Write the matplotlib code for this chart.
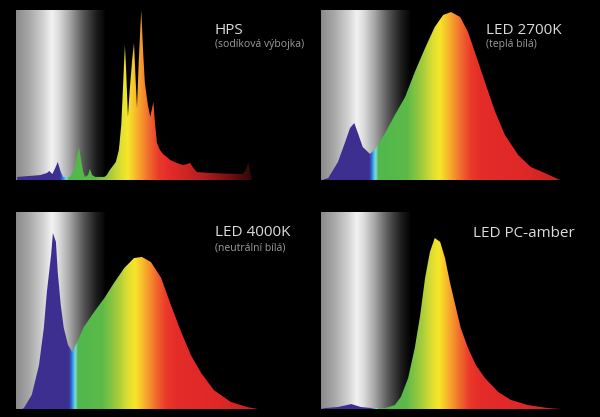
import matplotlib
matplotlib.use("Agg")
import matplotlib.pyplot as plt
import numpy as np
from matplotlib.colors import LinearSegmentedColormap
from matplotlib.patches import Polygon

# spectra: wavelength (nm) and relative intensity
hps_nm = [382, 403, 420, 431, 435, 440, 445, 449, 454, 458, 469, 476, 481, 484, 487,
          491, 494, 499, 502, 506, 511, 526, 530, 535, 540, 545, 550, 554, 557, 560,
          562, 565, 568, 572, 575, 577, 580, 583, 587, 590, 593, 598, 602, 605, 607,
          610, 613, 618, 623, 635, 646, 656, 663, 668, 673, 679, 701, 755, 760, 764,
          767, 770]
hps_val = [0.018, 0.024, 0.029, 0.041, 0.053, 0.035, 0.071, 0.106, 0.047, 0.018, 0.018,
           0.059, 0.147, 0.194, 0.129, 0.047, 0.018, 0.029, 0.065, 0.029, 0.018, 0.018,
           0.029, 0.059, 0.082, 0.106, 0.176, 0.324, 0.559, 0.794, 0.647, 0.371, 0.529,
           0.706, 0.806, 0.647, 0.424, 0.706, 1.0, 0.765, 0.571, 0.441, 0.371, 0.424,
           0.459, 0.324, 0.218, 0.176, 0.153, 0.118, 0.1, 0.088, 0.094, 0.1, 0.071,
           0.047, 0.041, 0.035, 0.059, 0.106, 0.047, 0.012]

led2700_nm = [382, 392, 408, 420, 428, 435, 441, 449, 461, 471, 486, 502, 519, 535, 552,
              568, 582, 595, 610, 623, 636, 651, 668, 684, 706, 727, 750, 775]
led2700_val = [0.0, 0.012, 0.106, 0.224, 0.306, 0.335, 0.276, 0.194, 0.153, 0.188, 0.276,
               0.382, 0.488, 0.635, 0.776, 0.9, 0.971, 0.988, 0.959, 0.871, 0.735, 0.576,
               0.4, 0.265, 0.147, 0.076, 0.041, 0.0]

led4000_nm = [390, 393, 406, 418, 426, 431, 438, 441, 446, 449, 454, 459, 466, 473, 481,
              492, 509, 526, 542, 559, 575, 588, 603, 620, 636, 653, 669, 686, 707, 735,
              762, 780]
led4000_val = [0.0, 0.005, 0.071, 0.223, 0.411, 0.594, 0.782, 0.893, 0.848, 0.695, 0.528,
               0.411, 0.325, 0.289, 0.340, 0.416, 0.492, 0.563, 0.640, 0.716, 0.766,
               0.772, 0.746, 0.665, 0.528, 0.391, 0.274, 0.183, 0.096, 0.036, 0.010, 0.0]

amber_nm = [380, 387, 408, 430, 446, 463, 486, 502, 512, 524, 535, 544, 552, 560, 568,
            577, 585, 593, 602, 611, 623, 636, 651, 673, 694, 722, 755, 777]
amber_val = [0.0, 0.005, 0.010, 0.025, 0.010, 0.005, 0.005, 0.020, 0.061, 0.157, 0.310,
             0.477, 0.665, 0.797, 0.868, 0.848, 0.766, 0.645, 0.528, 0.411, 0.310, 0.223,
             0.157, 0.086, 0.046, 0.020, 0.005, 0.0]

titles = ["HPS", "LED 2700K", "LED 4000K", "LED PC-amber"]
subtitles = ["(sodíková výbojka)", "(teplá bílá)", "(neutrální bílá)", ""]

NM_MIN, NM_MAX = 380, 780
BAND_END = 527

plt.rcParams["font.family"] = ["Open Sans", "DejaVu Sans"]


def rainbow(cyan, shift, dark_tail):
    stops = [
        (380, "#3d2f90"),
        (cyan - 8, "#3d2f90"),
        (cyan - 4, "#2f6ad4"),
        (cyan, "#40c4ee"),
        (cyan + 3, "#8cd6d2"),
        (cyan + 7, "#4fb84e"),
        (522 + shift, "#5cba48"),
        (548 + shift, "#a4cc3c"),
        (565 + shift, "#dede32"),
        (577 + shift, "#f8e62a"),
        (597 + shift, "#f6a02c"),
        (612 + shift, "#f06a2e"),
        (628 + shift, "#ea3a2a"),
        (645 + shift, "#e42c28"),
    ]
    if dark_tail:
        stops += [(690, "#b41e1e"), (730, "#781212"), (780, "#200404")]
    else:
        stops += [(720, "#de2828"), (780, "#c42020")]
    return LinearSegmentedColormap.from_list(
        "rb", [((w - NM_MIN) / (NM_MAX - NM_MIN), c) for w, c in stops])


gray_band = LinearSegmentedColormap.from_list("band", [
    (0.0, "#8a8a8a"), (0.15, "#a8a8a8"), (0.3, "#d0d0d0"), (0.4, "#f2f2f2"),
    (0.47, "#e0e0e0"), (0.6, "#a8a8a8"), (0.75, "#5a5a5a"), (0.9, "#1e1e1e"),
    (1.0, "#050505")])


def draw_panel(ax, nm, val, cmap):
    ax.set_facecolor("black")
    ax.imshow(np.linspace(0, 1, 256)[None, :], extent=[NM_MIN, BAND_END, 0, 1],
              cmap=gray_band, aspect="auto", zorder=1)
    verts = [(nm[0], 0)] + list(zip(nm, val)) + [(nm[-1], 0)]
    shape = Polygon(verts, closed=True, facecolor="none", edgecolor="none")
    ax.add_patch(shape)
    grad = np.linspace(NM_MIN, NM_MAX, 800)[None, :]
    img = ax.imshow(grad, extent=[NM_MIN, NM_MAX, 0, 1], cmap=cmap, vmin=NM_MIN,
                    vmax=NM_MAX, aspect="auto", zorder=2)
    img.set_clip_path(shape)
    ax.set_xlim(NM_MIN, NM_MAX)
    ax.set_ylim(0, 1)
    ax.axis("off")


def main():
    W, H = 600, 417
    fig = plt.figure(figsize=(W / 100, H / 100), dpi=100, facecolor="black")

    # left, top, bottom in pixels
    boxes = [(16, 10, 180), (321, 10, 180), (16, 212, 409), (321, 212, 409)]
    data = [(hps_nm, hps_val, rainbow(460, -12, True)),
            (led2700_nm, led2700_val, rainbow(467, 0, False)),
            (led4000_nm, led4000_val, rainbow(475, 0, False)),
            (amber_nm, amber_val, rainbow(468, -2, False))]
    text_pos = [(215, 30), (486, 30), (215, 233), (473, 234)]

    for (l, t, b), (nm, val, cmap) in zip(boxes, data):
        ax = fig.add_axes([l / W, 1 - b / H, 242 / W, (b - t) / H])
        draw_panel(ax, nm, val, cmap)

    for (x, y), title, sub in zip(text_pos, titles, subtitles):
        fig.text(x / W, 1 - y / H, title, color="#dcdcdc", fontsize=11, va="center")
        if sub:
            fig.text(x / W, 1 - (y + 15) / H, sub, color="#9c9c9c", fontsize=7.5,
                     va="center")

    fig.savefig("out.png", dpi=100, facecolor="black")
    plt.close(fig)


if __name__ == "__main__":
    main()
